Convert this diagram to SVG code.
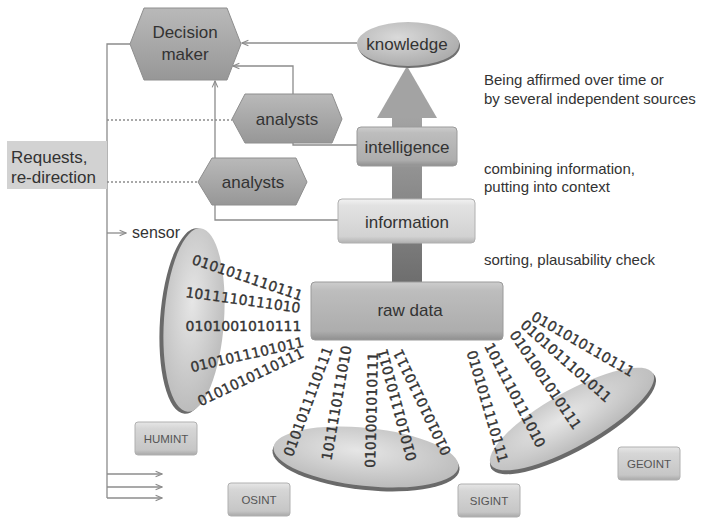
<svg xmlns="http://www.w3.org/2000/svg" width="703" height="518" viewBox="0 0 703 518">
<defs>
<style>
.lbl{font-family:"Liberation Sans",Arial,sans-serif;font-size:17px;fill:#333;text-anchor:middle}
.note{font-family:"Liberation Sans",Arial,sans-serif;font-size:15px;fill:#333}
.tag{font-family:"Liberation Sans",Arial,sans-serif;font-size:11.5px;fill:#555;text-anchor:middle}
.bin{font-family:"DejaVu Sans",Verdana,sans-serif;font-size:14px;fill:#333;stroke:#333;stroke-width:0.35;text-anchor:middle;dominant-baseline:central}
.con{fill:none;stroke:#8c8c8c;stroke-width:1.3}
.dot{fill:none;stroke:#8c8c8c;stroke-width:1.3;stroke-dasharray:2 2}
.hex{fill:url(#gHex);stroke:#8e8e8e;stroke-width:1}
</style>
<linearGradient id="gHex" x1="0" y1="0" x2="0" y2="1"><stop offset="0" stop-color="#b9b9b9"/><stop offset="1" stop-color="#979797"/></linearGradient>
<linearGradient id="gDark" x1="0" y1="0" x2="0" y2="1"><stop offset="0" stop-color="#cdcdcd"/><stop offset="0.15" stop-color="#bdbdbd"/><stop offset="0.85" stop-color="#adadad"/><stop offset="1" stop-color="#8f8f8f"/></linearGradient>
<linearGradient id="gLight" x1="0" y1="0" x2="0" y2="1"><stop offset="0" stop-color="#f2f2f2"/><stop offset="0.15" stop-color="#e2e2e2"/><stop offset="0.85" stop-color="#d2d2d2"/><stop offset="1" stop-color="#b2b2b2"/></linearGradient>
<linearGradient id="gTag" x1="0" y1="0" x2="0" y2="1"><stop offset="0" stop-color="#e6e6e6"/><stop offset="0.2" stop-color="#d6d6d6"/><stop offset="0.85" stop-color="#c6c6c6"/><stop offset="1" stop-color="#a8a8a8"/></linearGradient>
<linearGradient id="gShaft" gradientUnits="userSpaceOnUse" x1="0" y1="282" x2="0" y2="67"><stop offset="0" stop-color="#6e6e6e"/><stop offset="1" stop-color="#b3b3b3"/></linearGradient>
<radialGradient id="gDisk" cx="0.45" cy="0.4" r="0.6"><stop offset="0" stop-color="#e6e6e6"/><stop offset="1" stop-color="#bcbcbc"/></radialGradient>
<radialGradient id="gKnow" cx="0.4" cy="0.35" r="0.65"><stop offset="0" stop-color="#dadada"/><stop offset="1" stop-color="#adadad"/></radialGradient>
<marker id="arr" viewBox="0 0 10 10" refX="9" refY="5" markerWidth="8" markerHeight="8" markerUnits="userSpaceOnUse" orient="auto"><path d="M1,1.5 L9,5 L1,8.5" fill="none" stroke="#8c8c8c" stroke-width="1.4"/></marker>
</defs>
<rect width="703" height="518" fill="#ffffff"/>

<g id="connectors">
<path class="con" d="M130,44 H107 V498"/>
<path class="dot" d="M107,120 H232"/>
<path class="dot" d="M107,182 H198"/>
<path class="con" d="M107,233 H126" marker-end="url(#arr)"/>
<path class="con" d="M107,474 H162" marker-end="url(#arr)"/>
<path class="con" d="M107,487 H162" marker-end="url(#arr)"/>
<path class="con" d="M107,498 H162" marker-end="url(#arr)"/>
<path class="con" d="M357,43 H242" marker-end="url(#arr)"/>
<path class="con" d="M293,94 V66 H233" marker-end="url(#arr)"/>
<path class="con" d="M357,145 H293 V143"/>
<path class="con" d="M338,220 H215 V81" marker-end="url(#arr)"/>
</g>

<g id="big-arrow">
<rect x="392" y="110" width="30" height="174" fill="url(#gShaft)"/>
<polygon points="377,118 437,118 407,66" fill="#a3a3a3"/>
</g>

<g id="decision-maker">
<polygon class="hex" points="130,44 144,8 227,8 241,44 227,80 144,80"/>
<text class="lbl" x="185" y="38">Decision</text>
<text class="lbl" x="185" y="60">maker</text>
</g>

<g id="analysts-1">
<polygon class="hex" points="232,119 245,94 332,94 342,119 332,143 245,143"/>
<text class="lbl" x="287" y="125">analysts</text>
</g>

<g id="analysts-2">
<polygon class="hex" points="198,182 212,158 296,158 307,182 296,205 212,205"/>
<text class="lbl" x="253" y="188">analysts</text>
</g>

<g id="requests">
<rect x="7" y="141" width="100" height="48" fill="#d2d2d2"/>
<text class="lbl" x="11" y="163" style="text-anchor:start">Requests,</text>
<text class="lbl" x="11" y="183" style="text-anchor:start">re-direction</text>
</g>

<g id="knowledge">
<ellipse cx="409" cy="46" rx="51" ry="22" fill="#707070"/>
<ellipse cx="408" cy="44" rx="51" ry="22" fill="url(#gKnow)"/>
<text class="lbl" x="407" y="50">knowledge</text>
</g>

<g id="intelligence">
<rect x="357" y="127" width="100" height="39" rx="4" fill="url(#gDark)" stroke="#9a9a9a"/>
<text class="lbl" x="407" y="153">intelligence</text>
</g>

<g id="information">
<rect x="338" y="199" width="137" height="44" rx="4" fill="url(#gLight)" stroke="#b0b0b0"/>
<text class="lbl" x="407" y="228">information</text>
</g>

<g id="raw-data">
<rect x="311" y="282" width="192" height="58" rx="4" fill="url(#gDark)" stroke="#9a9a9a"/>
<text class="lbl" x="410" y="316">raw data</text>
</g>

<g id="notes">
<text class="note" x="484" y="85">Being affirmed over time or</text>
<text class="note" x="484" y="104">by several independent sources</text>
<text class="note" x="484" y="174">combining information,</text>
<text class="note" x="484" y="192">putting into context</text>
<text class="note" x="484" y="265">sorting, plausability check</text>
<text class="note" x="132" y="238" style="font-size:16px">sensor</text>
</g>

<g id="humint-disk">
<ellipse cx="191" cy="321" rx="31" ry="93" transform="rotate(4 191 321)" fill="#6a6a6a"/>
<ellipse cx="194" cy="320" rx="30" ry="92" transform="rotate(4 194 320)" fill="url(#gDisk)"/>
<text class="bin" transform="translate(247.5,277.5) rotate(18.7)">0101011110111</text>
<text class="bin" transform="translate(243,300) rotate(8)">1011110111010</text>
<text class="bin" transform="translate(243.5,326)">0101001010111</text>
<text class="bin" transform="translate(247,354.5) rotate(-12.8)">0101011101011</text>
<text class="bin" transform="translate(250.5,377) rotate(-25.5)">0101010110111</text>
</g>

<g id="osint-disk">
<ellipse cx="366" cy="460" rx="94" ry="30" transform="rotate(6 366 460)" fill="#6a6a6a"/>
<ellipse cx="366" cy="457" rx="93" ry="29" transform="rotate(6 366 457)" fill="url(#gDisk)"/>
<text class="bin" transform="translate(308,401.5) rotate(-69.5)">0101011110111</text>
<text class="bin" transform="translate(336.5,403) rotate(-80)">1011110111010</text>
<text class="bin" transform="translate(371.5,410) rotate(-88.5)">0101001010111</text>
<text class="bin" transform="translate(397,405) rotate(-105)">0101011101011</text>
<text class="bin" transform="translate(422,402.5) rotate(-115.5)">0101010110111</text>
</g>

<g id="sigint-geoint-disk">
<ellipse cx="573" cy="422" rx="94" ry="28" transform="rotate(-29.4 573 422)" fill="#6a6a6a"/>
<ellipse cx="572" cy="419" rx="93" ry="27" transform="rotate(-29.4 572 419)" fill="url(#gDisk)"/>
<text class="bin" transform="translate(487.5,406.5) rotate(73.8)">0101011110111</text>
<text class="bin" transform="translate(515,395) rotate(62.6)">1011110111010</text>
<text class="bin" transform="translate(545.5,380) rotate(55.9)">0101001010111</text>
<text class="bin" transform="translate(566,361) rotate(41.6)">0101011101011</text>
<text class="bin" transform="translate(583,344) rotate(30)">0101010110111</text>
</g>

<g id="humint">
<rect x="135" y="422" width="62" height="33" rx="3" fill="url(#gTag)" stroke="#b0b0b0"/>
<text class="tag" x="166" y="443">HUMINT</text>
</g>
<g id="osint">
<rect x="228" y="483" width="62" height="33" rx="3" fill="url(#gTag)" stroke="#b0b0b0"/>
<text class="tag" x="259" y="504">OSINT</text>
</g>
<g id="sigint">
<rect x="458" y="484" width="62" height="33" rx="3" fill="url(#gTag)" stroke="#b0b0b0"/>
<text class="tag" x="489" y="505">SIGINT</text>
</g>
<g id="geoint">
<rect x="618" y="447" width="62" height="33" rx="3" fill="url(#gTag)" stroke="#b0b0b0"/>
<text class="tag" x="649" y="468">GEOINT</text>
</g>
</svg>
